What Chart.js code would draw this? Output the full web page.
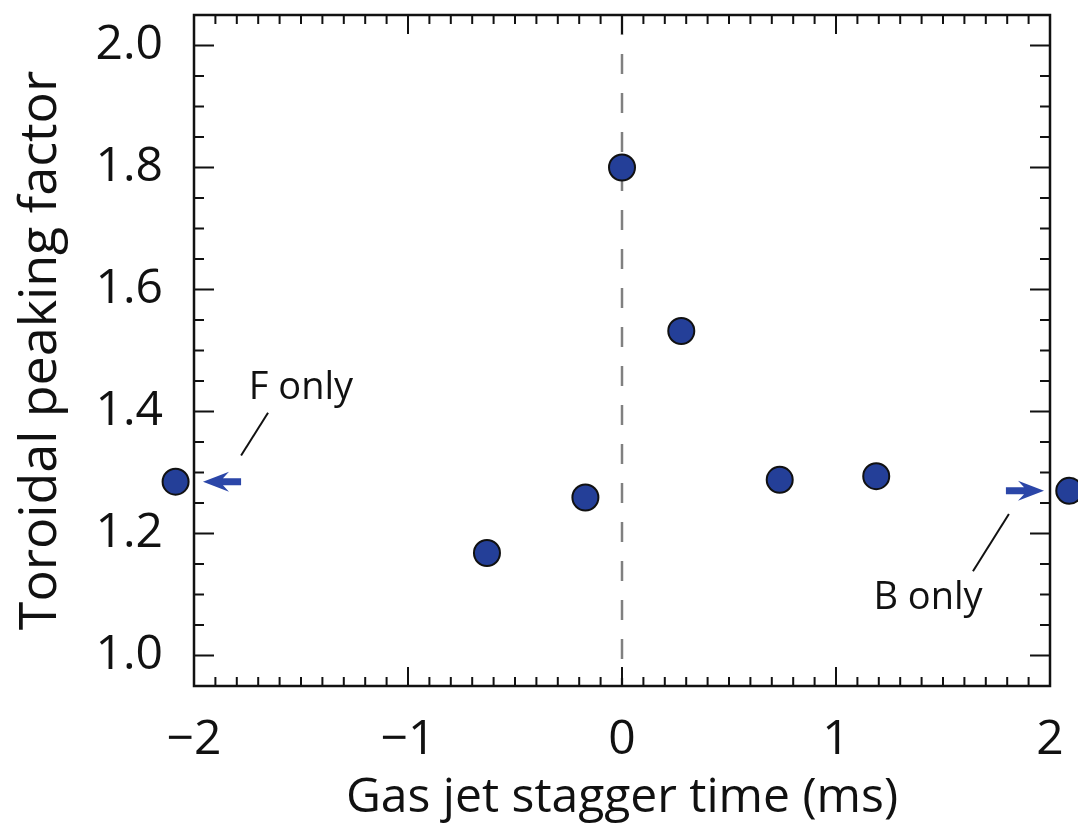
<!DOCTYPE html>
<html>
<head>
<meta charset="utf-8">
<script src="https://cdn.jsdelivr.net/npm/chart.js@4"></script>
<style>
  html, body { margin: 0; padding: 0; background: #fff; }
  #wrap { width: 1078px; height: 823px; }
</style>
</head>
<body>
<div id="wrap"><canvas id="chartPeak"></canvas></div>
<script>
// data
var staggerTime = [-2.086, -0.631, -0.171, 0.0, 0.277, 0.737, 1.188, 2.09];
var peakingFactor = [1.285, 1.168, 1.259, 1.80, 1.532, 1.288, 1.294, 1.270];
var xTicks = [-2, -1, 0, 1, 2];
var yTicks = [1.0, 1.2, 1.4, 1.6, 1.8, 2.0];
var zeroLineX = [0, 0];
var zeroLineY = [2.05, 0.95];
var noteLabels = ['F only', 'B only'];

var blue = '#243f98';
var fontName = "'Open Sans', 'Noto Sans', sans-serif";

// annotation placement (data coords)
var notes = [
  { text: noteLabels[0], tx: -1.50, ty: 1.438, line: [-1.654, 1.398, -1.780, 1.328],
    arrow: [-1.780, -1.958, 1.285] },
  { text: noteLabels[1], tx: 1.43, ty: 1.094, line: [1.808, 1.232, 1.640, 1.138],
    arrow: [1.794, 1.972, 1.270] }
];

function minus(v) {
  return v < 0 ? '\u2212' + Math.abs(v) : String(v);
}

function noPad(scale) {
  scale.paddingTop = 0;
  scale.paddingBottom = 0;
  scale.paddingLeft = 0;
  scale.paddingRight = 0;
}

var savedArea = null;

var framePlugin = {
  id: 'framePlugin',
  // points just outside the axes (F only / B only) are skipped by Chart.js,
  // so widen the area while the datasets are drawn
  beforeDatasetsDraw: function (chart) {
    savedArea = chart.chartArea;
    chart.chartArea = {
      left: savedArea.left - 40, right: savedArea.right + 40,
      top: savedArea.top, bottom: savedArea.bottom,
      width: savedArea.width + 80, height: savedArea.height
    };
  },
  afterDatasetsDraw: function (chart) {
    if (savedArea) {
      chart.chartArea = savedArea;
    }
    var ctx = chart.ctx;
    var a = chart.chartArea;
    var xs = chart.scales.x, ys = chart.scales.y;
    ctx.save();

    // inward ticks on all four sides
    ctx.strokeStyle = '#111';
    ctx.lineWidth = 2;
    ctx.beginPath();
    for (var i = -20; i <= 20; i++) {
      var px = xs.getPixelForValue(i / 10);
      var len = (i % 10 === 0) ? 19 : 9;
      ctx.moveTo(px, a.bottom); ctx.lineTo(px, a.bottom - len);
      ctx.moveTo(px, a.top); ctx.lineTo(px, a.top + len);
    }
    for (var j = 19; j <= 41; j++) {
      var v = j / 20;
      var py = ys.getPixelForValue(v);
      var l2 = (j % 4 === 0) ? 20 : 10;
      ctx.moveTo(a.left, py); ctx.lineTo(a.left + l2, py);
      ctx.moveTo(a.right, py); ctx.lineTo(a.right - l2, py);
    }
    ctx.stroke();

    ctx.lineWidth = 2.5;
    ctx.strokeRect(a.left, a.top, a.right - a.left, a.bottom - a.top);

    // notes
    notes.forEach(function (n) {
      ctx.strokeStyle = '#111';
      ctx.lineWidth = 2;
      ctx.beginPath();
      ctx.moveTo(xs.getPixelForValue(n.line[0]), ys.getPixelForValue(n.line[1]));
      ctx.lineTo(xs.getPixelForValue(n.line[2]), ys.getPixelForValue(n.line[3]));
      ctx.stroke();

      ctx.fillStyle = '#111';
      ctx.font = '38px ' + fontName;
      ctx.textAlign = 'center';
      ctx.textBaseline = 'middle';
      ctx.fillText(n.text, xs.getPixelForValue(n.tx), ys.getPixelForValue(n.ty));

      // arrow
      var x0 = xs.getPixelForValue(n.arrow[0]);
      var x1 = xs.getPixelForValue(n.arrow[1]);
      var y = ys.getPixelForValue(n.arrow[2]);
      var dir = x1 > x0 ? 1 : -1;
      var headLen = 26, headHalf = 10, shaft = 3.5;
      var xb = x1 - dir * headLen;
      ctx.fillStyle = '#2b46a8';
      ctx.beginPath();
      ctx.moveTo(x0, y - shaft);
      ctx.lineTo(xb + dir * 6, y - shaft);
      ctx.lineTo(xb, y - headHalf);
      ctx.lineTo(x1, y);
      ctx.lineTo(xb, y + headHalf);
      ctx.lineTo(xb + dir * 6, y + shaft);
      ctx.lineTo(x0, y + shaft);
      ctx.closePath();
      ctx.fill();
    });

    ctx.restore();
  }
};

var ctx = document.getElementById('chartPeak');
var myChart = new Chart(ctx, {
  type: 'scatter',
  data: {
    datasets: [
      {
        label: 'Peaking factor',
        data: staggerTime.map((t, i) => ({ x: t, y: peakingFactor[i] })),
        pointRadius: 13,
        pointBorderWidth: 2,
        pointBackgroundColor: blue,
        pointBorderColor: '#111',
        clip: false
      },
      {
        type: 'line',
        label: 'zero',
        data: zeroLineX.map((t, i) => ({ x: t, y: zeroLineY[i] })),
        borderColor: '#808080',
        borderWidth: 2.5,
        borderDash: [20, 19],
        pointRadius: 0,
        fill: false
      }
    ]
  },
  options: {
    responsive: true,
    maintainAspectRatio: false,
    animation: false,
    layout: {
      padding: { left: 0, right: 28, top: 8, bottom: 0 }
    },
    plugins: {
      legend: { display: false },
      tooltip: { enabled: false }
    },
    scales: {
      x: {
        type: 'linear',
        // range set after data limits so the end points outside it still get drawn
        afterDataLimits: function (scale) {
          scale.min = xTicks[0];
          scale.max = xTicks[xTicks.length - 1];
        },
        afterBuildTicks: function (scale) {
          scale.min = xTicks[0];
          scale.max = xTicks[xTicks.length - 1];
          scale.ticks = xTicks.map(v => ({ value: v }));
        },
        afterFit: function (scale) { scale.height = 137; noPad(scale); },
        border: { display: false },
        grid: { display: false, drawTicks: false },
        ticks: {
          stepSize: 1,
          padding: 26,
          color: '#111',
          font: { family: fontName, size: 48 },
          callback: function (v) { return minus(v); }
        },
        title: {
          display: true,
          text: 'Gas jet stagger time (ms)',
          color: '#111',
          font: { family: fontName, size: 48 },
          padding: { top: 0, bottom: -4 }
        }
      },
      y: {
        type: 'linear',
        min: 0.95,
        max: 2.05,
        afterBuildTicks: function (scale) {
          scale.ticks = yTicks.map(v => ({ value: v }));
        },
        afterFit: function (scale) { scale.width = 194; noPad(scale); },
        border: { display: false },
        grid: { display: false, drawTicks: false },
        ticks: {
          padding: 31,
          color: '#111',
          font: { family: fontName, size: 48 },
          callback: function (v) { return v.toFixed(1); }
        },
        title: {
          display: true,
          text: 'Toroidal peaking factor',
          color: '#111',
          font: { family: fontName, size: 52 },
          padding: { top: 10, bottom: 0 }
        }
      }
    }
  },
  plugins: [framePlugin]
});
</script>
</body>
</html>
